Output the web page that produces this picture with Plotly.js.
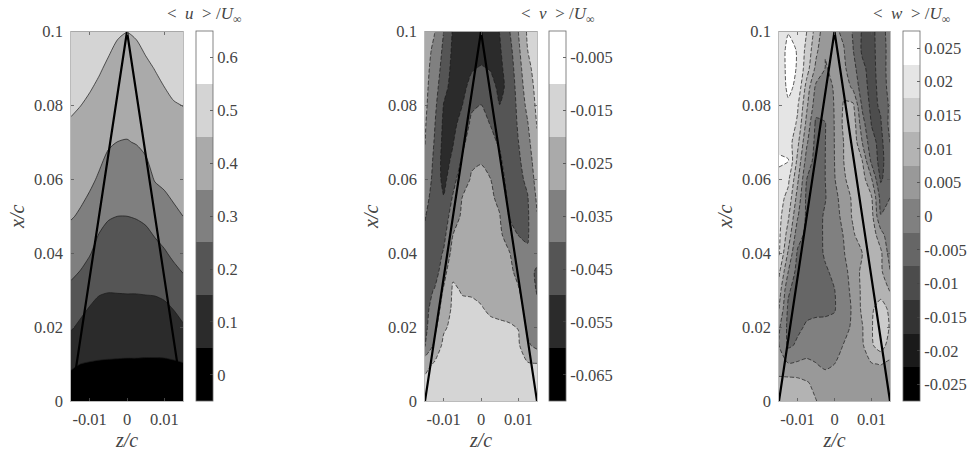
<!DOCTYPE html>
<html>
<head>
<meta charset="utf-8">
<script src="https://cdn.plot.ly/plotly-3.0.1.min.js"></script>
<style>html,body{margin:0;padding:0;background:#fff}#chart{width:974px;height:452px}</style>
</head>
<body>
<div id="chart"></div>
<script>
// spanwise stations (z/c) shared by all three fields
const zStations = [-0.015,-0.0125,-0.01,-0.0075,-0.005,-0.0025,0,0.0025,0.005,0.0075,0.01,0.0125,0.015];
const xStationsCoarse = [0,0.01,0.02,0.03,0.04,0.05,0.06,0.07,0.08,0.09,0.1];
const xStationsFine = [0.1,0.095,0.09,0.085,0.08,0.075,0.07,0.065,0.06,0.055,0.05,0.045,0.04,0.035,0.03,0.025,0.02,0.015,0.01,0.005,0];

// <u>/U_inf, one list per z station, from x/c=0 upward
const uByStation = [
 [0,.060,.160,.233,.298,.356,.390,.425,.461,.501,.541],
 [0,.050,.132,.213,.282,.341,.380,.415,.451,.491,.531],
 [0,.046,.110,.181,.256,.317,.366,.401,.437,.475,.515],
 [0,.044,.101,.159,.218,.278,.341,.382,.420,.458,.498],
 [0,.043,.097,.154,.205,.256,.310,.360,.399,.438,.477],
 [0,.042,.097,.155,.202,.250,.300,.349,.385,.421,.458],
 [0,.041,.097,.156,.203,.250,.298,.347,.382,.416,.451],
 [0,.041,.097,.156,.205,.254,.305,.353,.388,.422,.458],
 [0,.040,.097,.158,.210,.263,.320,.367,.402,.437,.475],
 [0,.040,.097,.160,.222,.289,.355,.387,.419,.452,.492],
 [0,.040,.101,.169,.241,.312,.366,.399,.432,.468,.508],
 [0,.042,.114,.192,.268,.335,.377,.411,.445,.484,.524],
 [0,.046,.141,.219,.287,.350,.384,.417,.451,.491,.531]
];

// <v>/U_inf, one list per z station, from x/c=0.1 downward
const vByStation = [
 [-.0255,-.026,-.027,-.0275,-.028,-.029,-.0298,-.0315,-.0335,-.0365,-.0395,-.0415,-.0425,-.0435,-.0435,-.043,-.0425,-.041,-.023,-.018,-.016],
 [-.0295,-.032,-.0335,-.035,-.037,-.039,-.0405,-.042,-.043,-.0445,-.045,-.0455,-.0455,-.0455,-.0395,-.036,-.033,-.028,-.019,-.017,-.016],
 [-.04,-.042,-.044,-.047,-.0505,-.052,-.053,-.054,-.053,-.0495,-.0465,-.043,-.039,-.034,-.029,-.026,-.0215,-.0175,-.0165,-.016,-.0155],
 [-.051,-.052,-.053,-.0535,-.054,-.0525,-.0505,-.048,-.0435,-.039,-.0345,-.030,-.0262,-.0215,-.0188,-.0182,-.0175,-.017,-.0165,-.016,-.0155],
 [-.052,-.053,-.054,-.053,-.05,-.0465,-.0425,-.0385,-.034,-.0298,-.0285,-.0268,-.0252,-.0235,-.0206,-.0185,-.018,-.017,-.016,-.0155,-.015],
 [-.053,-.055,-.051,-.0465,-.0415,-.0378,-.0345,-.0312,-.0291,-.0277,-.0262,-.0248,-.0233,-.0219,-.0205,-.0192,-.018,-.017,-.016,-.0155,-.015],
 [-.055,-.055,-.049,-.0443,-.0397,-.0366,-.0334,-.0303,-.0288,-.0275,-.0262,-.0249,-.0236,-.0223,-.021,-.0197,-.0185,-.0175,-.0165,-.0155,-.015],
 [-.053,-.055,-.0505,-.047,-.0435,-.0403,-.0368,-.0332,-.0298,-.0285,-.0273,-.0262,-.025,-.0238,-.0225,-.0207,-.019,-.0175,-.0165,-.0155,-.015],
 [-.0498,-.051,-.052,-.052,-.0499,-.046,-.0415,-.038,-.035,-.032,-.0296,-.0281,-.0265,-.025,-.0234,-.0212,-.0192,-.0178,-.0168,-.0158,-.0152],
 [-.041,-.044,-.046,-.048,-.049,-.049,-.048,-.0465,-.0445,-.0425,-.0403,-.035,-.0292,-.0278,-.0265,-.0225,-.0192,-.0178,-.017,-.016,-.0155],
 [-.03,-.032,-.034,-.0355,-.037,-.0385,-.0402,-.0415,-.0425,-.043,-.0425,-.0402,-.0365,-.0325,-.0292,-.0255,-.0203,-.0185,-.0175,-.0165,-.016],
 [-.0185,-.02,-.0225,-.025,-.0275,-.0305,-.033,-.0355,-.038,-.0405,-.0412,-.0407,-.0392,-.038,-.036,-.034,-.032,-.0285,-.019,-.0175,-.0165],
 [-.015,-.0155,-.016,-.017,-.018,-.0195,-.0215,-.024,-.026,-.0285,-.0305,-.034,-.038,-.0408,-.0405,-.0385,-.036,-.0325,-.0195,-.0175,-.0165]
];

// <w>/U_inf, one list per x/c station, from x/c=0.1 downward
const wByRow = [
 [.0195,.0222,.021,.0175,.0105,.0043,.0035,.0015,-.003,-.008,-.0095,-.004,-.001],
 [.0195,.024,.0222,.016,.0088,.0026,.0032,.0028,-.0023,-.0083,-.0093,-.0048,-.0008],
 [.0195,.024,.0222,.0148,.0062,.0024,.0028,.0035,-.0007,-.0063,-.0095,-.005,-.0005],
 [.0195,.0235,.0215,.0105,.0015,.0005,.003,.006,.0013,-.005,-.0095,-.0058,-.0005],
 [.0205,.0218,.0182,.0083,-.0005,-.001,.0028,.008,.0085,-.0034,-.0088,-.0069,-.0015],
 [.0205,.0212,.0167,.006,-.0035,-.0027,.0027,.0085,.0105,-.0004,-.0077,-.0079,-.001],
 [.0205,.02,.0139,.0032,-.0042,-.0026,.0026,.0076,.0112,.0025,-.006,-.009,-.0025],
 [.0235,.0228,.0113,.0004,-.0045,-.0025,.0025,.0075,.0113,.0075,-.0037,-.0095,-.0035],
 [.0205,.0185,.0085,-.0025,-.0045,-.0025,.0022,.0065,.0108,.0098,.003,-.0082,-.0042],
 [.0195,.016,.0057,-.0037,-.0048,-.0028,.0012,.0045,.0085,.0105,.008,-.0042,-.0025],
 [.019,.0132,.003,-.0035,-.0045,-.0018,.0007,.0038,.0082,.0105,.0093,-.0023,-.0018],
 [.0185,.0104,-.0004,-.0038,-.0045,-.0017,.0004,.0027,.0068,.0105,.0105,.0045,-.001],
 [.018,.0067,-.0032,-.0045,-.0047,-.0018,0,.0022,.0055,.0075,.0095,.0085,.0002],
 [.0135,.0025,-.0045,-.005,-.0047,-.0032,-.0014,.0012,.0043,.0088,.0098,.0085,.0028],
 [.01,-.0017,-.0052,-.0052,-.0048,-.0038,-.0026,.0002,.004,.0085,.011,.0105,.0072],
 [.0075,-.0035,-.005,-.0035,-.0035,-.0032,-.0028,0,.0032,.0085,.0118,.0145,.0115],
 [.0033,-.0038,-.0033,-.002,-.0014,-.0016,-.0014,.0012,.0032,.0072,.012,.0165,.012],
 [.0025,-.0033,-.0018,-.0005,-.0003,0,.0008,.0027,.0045,.0068,.0118,.0148,.0102],
 [.0035,.0028,.0032,.0038,.0027,.0012,.0025,.0038,.0048,.0058,.0072,.0077,.0066],
 [.0095,.0095,.009,.0078,.0065,.0055,.0045,.005,.005,.0048,.0045,.004,.0037],
 [.0098,.0098,.0095,.0085,.0076,.0062,.0055,.005,.005,.0047,.0045,.004,.0035]
];

// wedge outline (z/c, x/c)
const wedgeZ = [-0.015,0,0.015];
const wedgeX = [0,0.1,0];

// tick labels
const xTickVals = [-0.01,0,0.01];
const xTickText = ['-0.01','0','0.01'];
const yTickVals = [0,0.02,0.04,0.06,0.08,0.1];
const yTickText = ['0','0.02','0.04','0.06','0.08','0.1'];
const uBarVals = [0,0.1,0.2,0.3,0.4,0.5,0.6];
const uBarText = ['0','0.1','0.2','0.3','0.4','0.5','0.6'];
const vBarVals = [-0.065,-0.055,-0.045,-0.035,-0.025,-0.015,-0.005];
const vBarText = ['-0.065','-0.055','-0.045','-0.035','-0.025','-0.015','-0.005'];
const wBarVals = [-0.025,-0.02,-0.015,-0.01,-0.005,0,0.005,0.01,0.015,0.02,0.025];
const wBarText = ['-0.025','-0.02','-0.015','-0.01','-0.005','0','0.005','0.01','0.015','0.02','0.025'];

const W = 974, H = 452;
const FONT = '"Liberation Serif", serif';
const TXT = '#444444';
const TICK_SIZE = 16.5;
const plotTop = 31.5, plotBottom = 401;
const px = v => v / W;

function field(o) {
  return {
    type: 'contour', x: o.x, y: o.y, z: o.z, transpose: !!o.transpose,
    xaxis: o.xa, yaxis: o.ya,
    autocontour: false, zauto: false, zmin: o.start - o.size, zmax: o.end + o.size,
    contours: {start: o.start, end: o.end, size: o.size, coloring: 'fill', showlines: false},
    line: {width: 0, smoothing: 0.7},
    colorscale: [[0, '#000000'], [1, '#ffffff']],
    hoverinfo: 'skip',
    colorbar: {
      x: px(o.barX), xref: 'paper', xanchor: 'left', xpad: 0, ypad: 0,
      y: 1 - (plotTop + plotBottom) / 2 / H, yanchor: 'middle',
      lenmode: 'pixels', len: plotBottom - plotTop, thickness: 16.5, thicknessmode: 'pixels',
      outlinecolor: '#666', outlinewidth: 0.8, borderwidth: 0,
      ticks: 'inside', ticklen: 3, tickcolor: '#444', tickwidth: 0.8,
      tickmode: 'array', tickvals: o.barVals, ticktext: o.barText,
      tickfont: {family: FONT, size: TICK_SIZE, color: TXT}
    }
  };
}
function isolines(o) {
  return {
    type: 'contour', x: o.x, y: o.y, z: o.z, transpose: !!o.transpose,
    xaxis: o.xa, yaxis: o.ya, showscale: false,
    autocontour: false,
    contours: {start: o.start, end: o.end, size: o.size, coloring: 'none', showlines: true},
    line: {color: '#1a1a1a', width: 0.7, dash: o.dash, smoothing: 0.7},
    hoverinfo: 'skip'
  };
}
function wedge(xa, ya) {
  return {type: 'scatter', mode: 'lines', x: wedgeZ, y: wedgeX, xaxis: xa, yaxis: ya,
    line: {color: '#000', width: 2.2}, hoverinfo: 'skip', showlegend: false};
}
function xAxis(l, r, anchor) {
  return {domain: [px(l), px(r)], range: [-0.015, 0.015], anchor: anchor,
    tickmode: 'array', tickvals: xTickVals, ticktext: xTickText,
    ticks: 'inside', ticklen: 3, tickcolor: '#555', tickwidth: 0.8, ticklabelstandoff: 3,
    showline: true, mirror: 'ticks', linecolor: '#aaa', linewidth: 0.8, showgrid: false, zeroline: false,
    tickfont: {family: FONT, size: TICK_SIZE, color: TXT},
    title: {text: '<i>z/c</i>', font: {family: FONT, size: 20, color: TXT}, standoff: 4}};
}
function yAxis(anchor) {
  return {domain: [1 - plotBottom / H, 1 - plotTop / H], range: [0, 0.1], anchor: anchor,
    tickmode: 'array', tickvals: yTickVals, ticktext: yTickText,
    ticks: 'inside', ticklen: 3, tickcolor: '#555', tickwidth: 0.8, ticklabelstandoff: 4,
    showline: true, mirror: 'ticks', linecolor: '#aaa', linewidth: 0.8, showgrid: false, zeroline: false,
    tickfont: {family: FONT, size: TICK_SIZE, color: TXT},
    title: {text: '<i>x/c</i>', font: {family: FONT, size: 20, color: TXT}, standoff: 3}};
}
function barTitle(name, cx) {
  return {text: '&lt;&nbsp; <i>' + name + '</i> &nbsp;&gt; /<i>U</i><sub>∞</sub>', xref: 'paper', yref: 'paper',
    x: px(cx), y: 1 - 15 / H, xanchor: 'center', yanchor: 'middle', showarrow: false,
    font: {family: FONT, size: 17, color: TXT}};
}

const uSpec = {x: zStations, y: xStationsCoarse, z: uByStation, transpose: true, xa: 'x', ya: 'y',
  start: 0.05, end: 0.55, size: 0.1, dash: 'solid', barX: 195.5, barVals: uBarVals, barText: uBarText};
const vSpec = {x: zStations, y: xStationsFine, z: vByStation, transpose: true, xa: 'x2', ya: 'y2',
  start: -0.06, end: -0.01, size: 0.01, dash: '4px,2px', barX: 549, barVals: vBarVals, barText: vBarText};
const wSpec = {x: zStations, y: xStationsFine, z: wByRow, xa: 'x3', ya: 'y3',
  start: -0.0225, end: 0.0225, size: 0.005, dash: '4px,2px', barX: 903, barVals: wBarVals, barText: wBarText};

const data = [
  field(uSpec), isolines(uSpec), wedge('x', 'y'),
  field(vSpec), isolines(vSpec), wedge('x2', 'y2'),
  field(wSpec), isolines(wSpec), wedge('x3', 'y3')
];

const layout = {
  width: W, height: H, showlegend: false,
  margin: {l: 0, r: 0, t: 0, b: 0, autoexpand: false},
  paper_bgcolor: '#fff', plot_bgcolor: '#fff',
  font: {family: FONT, color: TXT},
  xaxis: xAxis(71, 183, 'y'), yaxis: yAxis('x'),
  xaxis2: xAxis(425, 537, 'y2'), yaxis2: yAxis('x2'),
  xaxis3: xAxis(779, 890, 'y3'), yaxis3: yAxis('x3'),
  annotations: [barTitle('u', 204), barTitle('v', 557), barTitle('w', 911)]
};
Plotly.newPlot('chart', data, layout, {displayModeBar: false, responsive: false, staticPlot: true});
</script>
</body>
</html>
